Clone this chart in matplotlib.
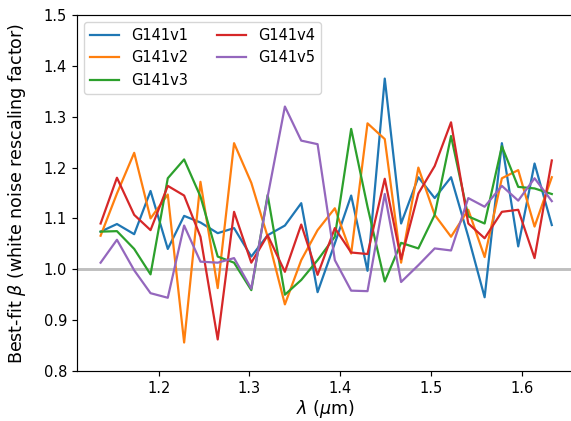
import numpy as np
import matplotlib
matplotlib.use("Agg")
import matplotlib.pyplot as plt

# wavelength bins (micron)
wave = [1.136, 1.154, 1.173, 1.191, 1.210, 1.228, 1.246, 1.265, 1.283, 1.302,
        1.320, 1.339, 1.357, 1.375, 1.394, 1.412, 1.430, 1.449, 1.467, 1.486,
        1.504, 1.522, 1.541, 1.559, 1.578, 1.596, 1.614, 1.633]

beta_v1 = [1.074, 1.089, 1.069, 1.154, 1.040, 1.105, 1.092, 1.071, 1.081, 1.025,
           1.067, 1.086, 1.130, 0.955, 1.051, 1.145, 0.997, 1.375, 1.090, 1.181,
           1.140, 1.181, 1.064, 0.945, 1.248, 1.045, 1.208, 1.087]
beta_v2 = [1.066, 1.149, 1.229, 1.100, 1.147, 0.856, 1.172, 0.963, 1.248, 1.170,
           1.064, 0.931, 1.018, 1.077, 1.120, 1.031, 1.287, 1.256, 1.013, 1.200,
           1.107, 1.064, 1.117, 1.024, 1.179, 1.195, 1.084, 1.181]
beta_v3 = [1.074, 1.075, 1.040, 0.990, 1.179, 1.216, 1.143, 1.025, 1.013, 0.959,
           1.146, 0.950, 0.979, 1.018, 1.064, 1.276, 1.123, 0.976, 1.052, 1.041,
           1.107, 1.262, 1.104, 1.090, 1.242, 1.162, 1.159, 1.148]
beta_v4 = [1.090, 1.180, 1.107, 1.077, 1.164, 1.145, 1.064, 0.862, 1.113, 1.013,
           1.067, 0.995, 1.088, 0.989, 1.081, 1.033, 1.030, 1.178, 1.020, 1.149,
           1.203, 1.289, 1.090, 1.061, 1.113, 1.117, 1.022, 1.214]
beta_v5 = [1.013, 1.058, 0.998, 0.953, 0.944, 1.086, 1.015, 1.013, 1.022, 0.962,
           1.143, 1.320, 1.253, 1.246, 1.018, 0.958, 0.957, 1.148, 0.975, 1.008,
           1.041, 1.037, 1.140, 1.123, 1.164, 1.135, 1.179, 1.134]

labels = ["G141v1", "G141v2", "G141v3", "G141v4", "G141v5"]
series = [beta_v1, beta_v2, beta_v3, beta_v4, beta_v5]

plt.rcParams["font.size"] = 10.5
plt.rcParams["axes.linewidth"] = 0.85

fig = plt.figure(figsize=(5.71, 4.21), dpi=100)
# right spine falls just outside the canvas, as in the original crop
ax = fig.add_axes([77 / 571, 50 / 421, 497.5 / 571, 356 / 421])

for lab, vals in zip(labels, series):
    ax.plot(wave, vals, lw=1.6, label=lab)

ax.axhline(1.0, color="#bfbfbf", lw=2.1, zorder=0)

ax.set_xlim(1.110, 1.658)
ax.set_ylim(0.8, 1.5)
ax.tick_params(labelsize=10.5, length=3.7, width=0.85)

ax.set_xlabel(r"$\lambda$ ($\mu$m)", fontsize=12.6, labelpad=1.5)
ax.set_ylabel(r"Best-fit $\beta$ (white noise rescaling factor)", fontsize=12.6,
              labelpad=11)
ax.legend(loc="upper left", ncol=2, fontsize=10.5)

plt.savefig("out.png", dpi=100)
plt.close()
